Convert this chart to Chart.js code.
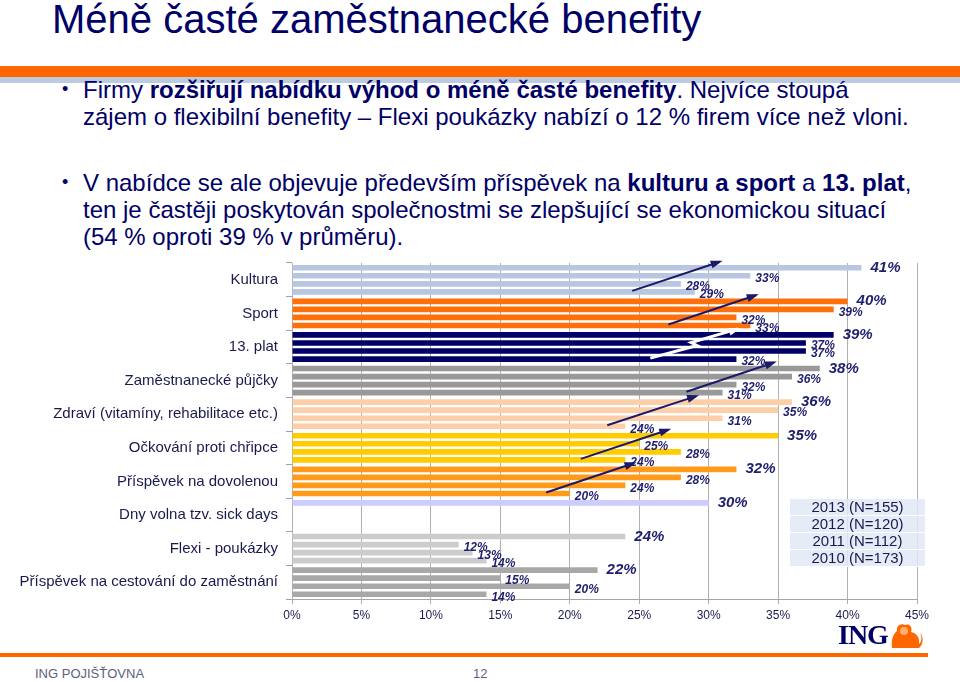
<!DOCTYPE html>
<html lang="cs">
<head>
  <meta charset="UTF-8">
  <title>Méně časté zaměstnanecké benefity</title>
  <script src="https://cdn.jsdelivr.net/npm/chart.js"></script>
  <style>
    body { margin: 0; width: 960px; height: 682px; position: relative; overflow: hidden; background: #fff;
           font-family: "Liberation Sans", Arial, sans-serif; color: #000066; }
    h1 { position: absolute; left: 52px; top: -3px; margin: 0; font-weight: normal; font-size: 40px; line-height: 44px; color: #000066; }
    .band1 { position: absolute; left: 0; top: 66px; width: 960px; height: 11px; background: #ff6600; }
    .band2 { position: absolute; left: 0; top: 77px; width: 960px; height: 6px; background: #bccbe2; }
    ul { position: absolute; left: 62px; top: 76px; margin: 0; padding: 0; list-style: none; font-size: 24px; line-height: 27px; }
    li { position: relative; padding-left: 21px; margin-bottom: 39px; }
    li:before { content: "•"; position: absolute; left: 0; top: 0; font-size: 18px; }
    #wrap { position: absolute; left: 0; top: 246px; width: 960px; height: 379px; }
    .legend { position: absolute; left: 790px; top: 499px; width: 135px; background: rgba(225,233,246,0.85); }
    .legend div { height: 16px; line-height: 16px; font-size: 15px; text-align: center; color: #1a1a4e; border-bottom: 1px solid #fff; }
    .footline { position: absolute; left: 0; top: 653px; width: 928px; height: 4px; background: #ff6600; }
    .foot { position: absolute; top: 666px; font-size: 13px; color: #5c5f80; }
    .ing { position: absolute; left: 838px; top: 619px; font-family: "Liberation Serif", serif; font-weight: bold; font-size: 28px; color: #000066; letter-spacing: -1px; }
  </style>
</head>
<body>
  <h1>Méně časté zaměstnanecké benefity</h1>
  <div class="band1"></div>
  <div class="band2"></div>
  <ul>
    <li>Firmy <b>rozšiřují nabídku výhod o méně časté benefity</b>. Nejvíce stoupá<br>zájem o flexibilní benefity – Flexi poukázky nabízí o 12 % firem více než vloni.</li>
    <li>V nabídce se ale objevuje především příspěvek na <b>kulturu a sport</b> a <b>13. plat</b>,<br>ten je častěji poskytován společnostmi se zlepšující se ekonomickou situací<br>(54 % oproti 39 % v průměru).</li>
  </ul>
  <div id="wrap"><canvas id="benefity" width="960" height="379"></canvas></div>
  <div class="legend">
    <div>2013 (N=155)</div>
    <div>2012 (N=120)</div>
    <div>2011 (N=112)</div>
    <div>2010 (N=173)</div>
  </div>
  <div class="ing">ING</div>
  <svg style="position:absolute;left:889px;top:622px" width="34" height="28" viewBox="0 0 34 28">
    <path d="M3 26 C2 18 4 12 8 9 C7 4 12 1 16 3 C20 1 24 5 22 10 C27 11 31 15 30 22 C33 20 33 14 31 11 C34 13 35 21 31 25 L30 26 Z" fill="#ff6600"/>
    <circle cx="15" cy="9" r="4" fill="#ffb070"/>
  </svg>
  <div class="footline"></div>
  <div class="foot" style="left:35px">ING POJIŠŤOVNA</div>
  <div class="foot" style="left:473px">12</div>

  <script>
    // kategorie a hodnoty (v %)
    const kategorie = ['Kultura', 'Sport', '13. plat', 'Zaměstnanecké půjčky', 'Zdraví (vitamíny, rehabilitace etc.)',
      'Očkování proti chřipce', 'Příspěvek na dovolenou', 'Dny volna tzv. sick days', 'Flexi - poukázky',
      'Příspěvek na cestování do zaměstnání'];
    const roky = ['2013 (N=155)', '2012 (N=120)', '2011 (N=112)', '2010 (N=173)'];
    const hodnoty2013 = [41, 40, 39, 38, 36, 35, 32, 30, 24, 22];
    const hodnoty2012 = [33, 39, 37, 36, 35, 25, 28, null, 12, 15];
    const hodnoty2011 = [28, 32, 37, 32, 31, 28, 24, null, 13, 20];
    const hodnoty2010 = [29, 33, 32, 31, 24, 24, 20, null, 14, 14];
    const barvy = ['#b8c6e2', '#ff6f0a', '#000066', '#999999', '#fccfa8', '#ffcc00', '#ff9a1a', '#ccccff', '#cccccc', '#a8a8a8'];
    const osaX = [0, 5, 10, 15, 20, 25, 30, 35, 40, 45];
    // šipky trendu: [kategorie, od %, do %, bílá?]
    const sipky = [[0, 24.5, 30.8, false], [1, 27.1, 33.4, false], [2, 25.8, 32.1, true], [3, 28.4, 34.7, false],
      [4, 22.7, 29.1, false], [5, 20.8, 27.1, false], [6, 18.3, 24.6, false]];

    const popisky = {
      id: 'popisky',
      afterDatasetsDraw(chart) {
        const ctx = chart.ctx;
        ctx.save();
        chart.data.datasets.forEach((ds, di) => {
          const meta = chart.getDatasetMeta(di);
          meta.data.forEach((bar, i) => {
            if (ds.data[i] == null) return;
            ctx.fillStyle = '#1f1f6e';
            ctx.textBaseline = 'middle';
            if (di === 0) {
              ctx.font = 'italic bold 15px "Liberation Sans", Arial';
              ctx.fillText(ds.data[i] + '%', bar.x + 9, bar.y);
            } else {
              ctx.font = 'italic bold 12px "Liberation Sans", Arial';
              ctx.fillText(ds.data[i] + '%', bar.x + 5, bar.y + 3);
            }
          });
        });
        // šipky
        const x = chart.scales.x;
        sipky.forEach(([k, od, kam, bila]) => {
          const y0 = chart.getDatasetMeta(3).data[k].y - 1;
          const y1 = chart.getDatasetMeta(0).data[k].y - 6;
          const x0 = x.getPixelForValue(od), x1 = x.getPixelForValue(kam);
          ctx.strokeStyle = bila ? '#ffffff' : '#1a1a66';
          ctx.fillStyle = ctx.strokeStyle;
          ctx.lineWidth = bila ? 3 : 2;
          ctx.beginPath();
          if (bila) {
            const xm = (x0 + x1) / 2, ym = (y0 + y1) / 2;
            ctx.moveTo(x0, y0); ctx.lineTo(xm + 3, ym + 2); ctx.lineTo(xm - 3, ym - 1); ctx.lineTo(x1, y1);
          } else {
            ctx.moveTo(x0, y0); ctx.lineTo(x1, y1);
          }
          ctx.stroke();
          const a = Math.atan2(y1 - y0, x1 - x0);
          ctx.beginPath();
          ctx.moveTo(x1 + 3 * Math.cos(a), y1 + 3 * Math.sin(a));
          ctx.lineTo(x1 - 9 * Math.cos(a) + 4 * Math.sin(a), y1 - 9 * Math.sin(a) - 4 * Math.cos(a));
          ctx.lineTo(x1 - 9 * Math.cos(a) - 4 * Math.sin(a), y1 - 9 * Math.sin(a) + 4 * Math.cos(a));
          ctx.closePath();
          ctx.fill();
        });
        ctx.restore();
      }
    };

    const ctx = document.getElementById('benefity').getContext('2d');
    new Chart(ctx, {
      type: 'bar',
      data: {
        labels: kategorie,
        datasets: [
          { label: roky[0], data: hodnoty2013, backgroundColor: barvy },
          { label: roky[1], data: hodnoty2012, backgroundColor: barvy },
          { label: roky[2], data: hodnoty2011, backgroundColor: barvy },
          { label: roky[3], data: hodnoty2010, backgroundColor: barvy }
        ]
      },
      options: {
        indexAxis: 'y',
        responsive: false,
        animation: false,
        layout: { padding: { top: 7, right: 43, bottom: 0, left: 0 } },
        datasets: { bar: { categoryPercentage: 0.96, barPercentage: 0.7 } },
        plugins: { legend: { display: false }, tooltip: { enabled: false } },
        scales: {
          x: {
            min: 0, max: 45,
            afterBuildTicks: s => { s.ticks = osaX.map(v => ({ value: v })); },
            afterFit: s => { s.height = 26; },
            grid: { color: '#b0b0b0', tickLength: 5, drawTicks: true },
            border: { color: '#a6a6a6' },
            ticks: { callback: v => v + '%', color: '#1a1a4e', font: { size: 12, family: '"Liberation Sans", Arial' }, padding: 4 }
          },
          y: {
            afterFit: s => { s.width = 292; },
            grid: { drawOnChartArea: false, offset: true, tickLength: 6, color: '#9aa0b8' },
            border: { display: false },
            ticks: { color: '#1a1a4e', font: { size: 15, family: '"Liberation Sans", Arial' }, padding: 8 }
          }
        }
      },
      plugins: [popisky]
    });
  </script>
</body>
</html>
